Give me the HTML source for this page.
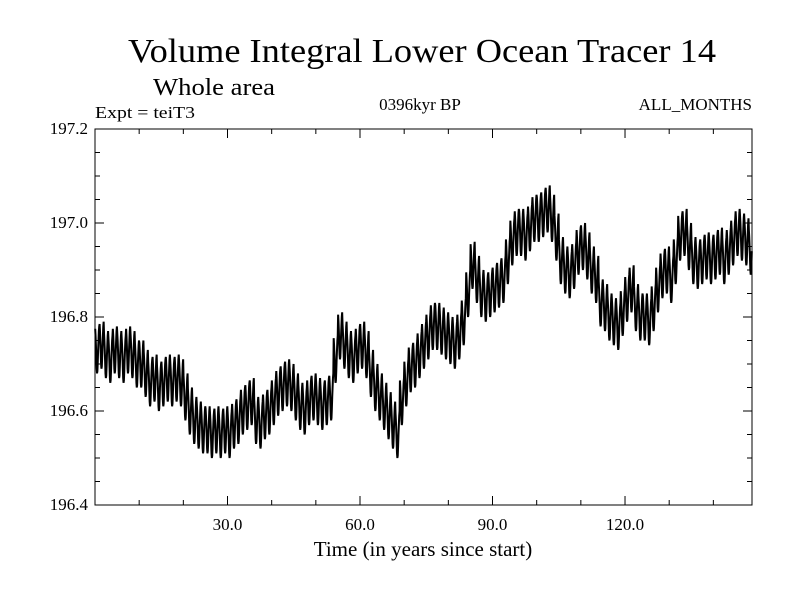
<!DOCTYPE html>
<html><head><meta charset="utf-8"><style>
html,body{margin:0;padding:0;background:#fff;}
svg{display:block;font-family:"Liberation Serif",serif;}
</style></head><body>
<svg id="chart" width="800" height="600" xmlns="http://www.w3.org/2000/svg">
<text x="422" y="62" font-size="34" text-anchor="middle" textLength="588" lengthAdjust="spacingAndGlyphs">Volume Integral Lower Ocean Tracer 14</text>
<text x="153" y="95" font-size="24" textLength="122" lengthAdjust="spacingAndGlyphs">Whole area</text>
<text x="95" y="118" font-size="17" textLength="100" lengthAdjust="spacingAndGlyphs">Expt = teiT3</text>
<text x="420" y="110" font-size="17" text-anchor="middle">0396kyr BP</text>
<text x="752" y="110" font-size="17" text-anchor="end">ALL_MONTHS</text>
<text x="423" y="556" font-size="21" text-anchor="middle">Time (in years since start)</text>
<g id="axes"></g>
<g id="series"></g>
<rect x="95" y="129" width="657" height="376" fill="none" stroke="#000" stroke-width="1"/>
</svg>
<script>
const xTicks = [30, 60, 90, 120];
const xTickLabels = ["30.0", "60.0", "90.0", "120.0"];
const yTicks = [196.4, 196.6, 196.8, 197.0, 197.2];
const yTickLabels = ["196.4", "196.6", "196.8", "197.0", "197.2"];
const yearlyMean = [
196.73,196.74,196.72,196.71,196.73,196.72,196.71,196.73,196.72,196.70,
196.70,196.68,196.66,196.67,196.65,196.66,196.67,196.66,196.67,196.66,
196.63,196.60,196.58,196.57,196.56,196.56,196.55,196.56,196.55,196.56,
196.55,196.57,196.58,196.60,196.61,196.62,196.58,196.57,196.59,196.60,
196.62,196.64,196.65,196.66,196.65,196.63,196.61,196.60,196.62,196.63,
196.62,196.61,196.62,196.63,196.71,196.76,196.74,196.72,196.71,196.73,
196.74,196.72,196.68,196.65,196.63,196.61,196.59,196.57,196.55,196.62,
196.66,196.69,196.70,196.72,196.74,196.76,196.78,196.78,196.77,196.76,
196.75,196.74,196.76,196.79,196.85,196.91,196.88,196.85,196.84,196.85,
196.86,196.87,196.88,196.92,196.96,196.98,196.98,196.97,196.99,197.01,
197.01,197.02,197.03,197.01,196.97,196.92,196.90,196.89,196.91,196.94,
196.95,196.93,196.90,196.88,196.83,196.82,196.80,196.79,196.78,196.81,
196.84,196.86,196.82,196.80,196.80,196.79,196.82,196.86,196.89,196.90,
196.88,196.92,196.97,196.98,196.95,196.92,196.91,196.92,196.93,196.92,
196.93,196.94,196.92,196.94,196.96,196.98,196.97,196.96,196.94];
const seasonalCycle = [0.045,0.03,0.01,-0.015,-0.04,-0.05,-0.045,-0.025,0.0,0.02,0.04,0.05];

const X0=95, X1=752, Y0=505, Y1=129, XMAX=148.75, YMIN=196.4, YMAX=197.2;
function xs(t){return X0+(t/XMAX)*(X1-X0);}
function ys(v){return Y0-(v-YMIN)/(YMAX-YMIN)*(Y0-Y1);}
const NS="http://www.w3.org/2000/svg";
const axes=document.getElementById('axes');
function line(x1,y1,x2,y2,name){
  const l=document.createElementNS(NS,'line');
  l.setAttribute('x1',x1);l.setAttribute('y1',y1);l.setAttribute('x2',x2);l.setAttribute('y2',y2);
  l.setAttribute('stroke','#000');l.setAttribute('stroke-width','1');
  
  
  axes.appendChild(l);
}
function text(x,y,s,anchor,name){
  const t=document.createElementNS(NS,'text');
  t.setAttribute('x',x);t.setAttribute('y',y);t.setAttribute('font-size','17');t.setAttribute('text-anchor',anchor);
  t.textContent=s;
  
  
  axes.appendChild(t);
}
for(let t=10;t<XMAX;t+=10){
  const major=xTicks.indexOf(t)>=0; const L=major?9:5;
  const x=xs(t);
  line(x,Y0,x,Y0-L,'x-tick');
  line(x,Y1,x,Y1+L,'x-tick-top');
}
xTicks.forEach((t,i)=>text(xs(t),530,xTickLabels[i],'middle','x-tick-label'));
for(let k=1;k<16;k++){
  const v=YMIN+k*0.05; const major=(k%4===0); const L=major?9:5;
  const y=ys(v);
  line(X0,y,X0+L,y,'y-tick');
  line(X1,y,X1-L,y,'y-tick-right');
}
yTicks.forEach((v,i)=>text(88,ys(v)+5,yTickLabels[i],'end','y-tick-label'));

let d='';
yearlyMean.forEach((m,yr)=>{
  seasonalCycle.forEach((s,mo)=>{
    const t=yr+(mo+0.5)/12;
    if(t>XMAX) return;
    d+=(d?'L':'M')+xs(t).toFixed(2)+','+ys(m+s).toFixed(2);
  });
});
const p=document.createElementNS(NS,'path');
p.setAttribute('d',d);p.setAttribute('fill','none');p.setAttribute('stroke','#000');p.setAttribute('stroke-width','2');


document.getElementById('series').appendChild(p);
</script>
</body></html>
